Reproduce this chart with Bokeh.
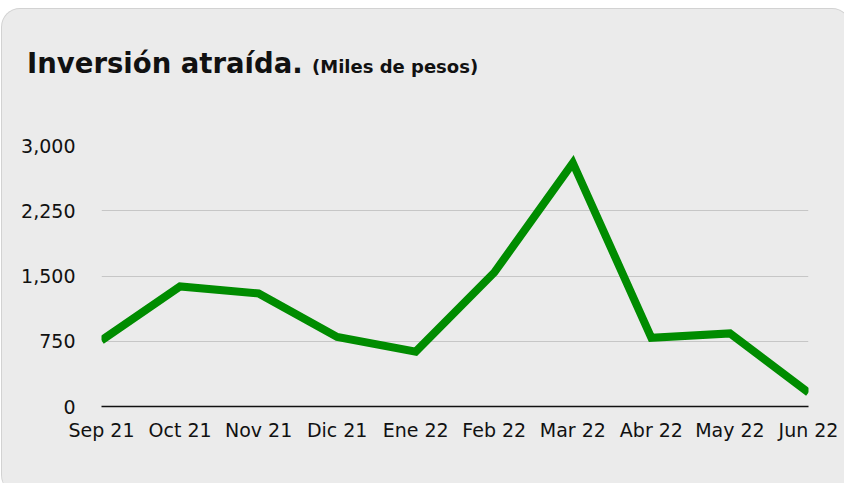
from bokeh.plotting import figure
from bokeh.models import Range1d, FixedTicker, NumeralTickFormatter, Div
from bokeh.layouts import column
from bokeh.embed import file_html
from bokeh.resources import INLINE

months = ["Sep 21", "Oct 21", "Nov 21", "Dic 21", "Ene 22", "Feb 22",
          "Mar 22", "Abr 22", "May 22", "Jun 22"]
inversion = [760, 1380, 1300, 800, 630, 1540, 2800, 790, 840, 160]
y_ticks = [0, 750, 1500, 2250, 3000]
title_text = "Inversión atraída."
subtitle_text = "(Miles de pesos)"

xs = list(range(len(months)))
font = "DejaVu Sans"
bg = "#ebebeb"

header = Div(
    width=838, height=106,
    text=(
        '<div style="position:relative;width:830px;height:100px;">'
        f'<span style="position:absolute;left:20px;top:36px;line-height:27px;'
        f'font-family:\'{font}\';font-weight:bold;font-size:27.5px;color:#111;'
        f'white-space:nowrap;">{title_text}</span>'
        f'<span style="position:absolute;left:305px;top:44px;line-height:18px;'
        f'font-family:\'{font}\';font-weight:bold;font-size:18px;color:#111;'
        f'white-space:nowrap;">{subtitle_text}</span>'
        '</div>'
    ),
)

p = figure(width=838, height=368, output_backend="svg", toolbar_location=None,
           x_range=Range1d(0, len(months) - 1), y_range=Range1d(0, 3000),
           min_border_left=99, min_border_right=32, min_border_top=20,
           min_border_bottom=87)
p.background_fill_color = bg
p.border_fill_color = bg
p.outline_line_color = None

p.line(xs, inversion, line_color="#008c00", line_width=8, line_join="miter")

p.xaxis.ticker = FixedTicker(ticks=xs)
p.xaxis.major_label_overrides = {i: m for i, m in zip(xs, months)}
p.xaxis.major_tick_line_color = None
p.xaxis.minor_tick_line_color = None
p.xaxis.major_tick_out = 0
p.xaxis.axis_line_color = "#111111"
p.xaxis.axis_line_width = 1.5
p.xaxis.major_label_standoff = 12
p.xaxis.major_label_text_font = font
p.xaxis.major_label_text_font_size = "19px"
p.xaxis.major_label_text_color = "#111111"

p.yaxis.ticker = FixedTicker(ticks=y_ticks)
p.yaxis.formatter = NumeralTickFormatter(format="0,0")
p.yaxis.axis_line_color = None
p.yaxis.major_tick_line_color = None
p.yaxis.minor_tick_line_color = None
p.yaxis.major_tick_out = 0
p.yaxis.major_label_standoff = 26
p.yaxis.major_label_text_font = font
p.yaxis.major_label_text_font_size = "19px"
p.yaxis.major_label_text_color = "#111111"

p.xgrid.grid_line_color = None
p.ygrid.grid_line_color = "#c6c6c6"
p.ygrid.grid_line_width = 1.2

layout = column(header, p, spacing=0)
layout.styles = {"margin-left": "2px", "margin-top": "9px", "background-color": bg,
                 "border-radius": "18px", "overflow": "hidden",
                 "box-shadow": "0 0 0 1px #d2d2d2"}

open("out.html", "w").write(file_html(layout, INLINE))
